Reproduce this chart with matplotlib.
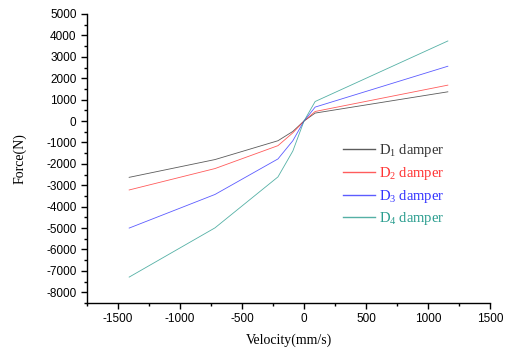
import matplotlib
matplotlib.use("Agg")
import matplotlib.pyplot as plt
from matplotlib.ticker import MultipleLocator

velocity = [-1410, -718, -210, -90, 0, 90, 1160]
d1_force = [-2630, -1800, -920, -485, 0, 372, 1365]
d2_force = [-3220, -2220, -1150, -550, 0, 447, 1677]
d3_force = [-5000, -3430, -1770, -920, 0, 652, 2560]
d4_force = [-7290, -4990, -2610, -1400, 0, 913, 3740]
labels = ["D$_1$ damper", "D$_2$ damper", "D$_3$ damper", "D$_4$ damper"]
colors = ["#333333", "#ff3333", "#3333ff", "#2a9d8f"]

plt.rcParams['mathtext.fontset'] = 'custom'
plt.rcParams['mathtext.rm'] = 'Liberation Serif'
plt.rcParams['mathtext.it'] = 'Liberation Serif:italic'
plt.rcParams['mathtext.default'] = 'rm'
plt.rcParams['axes.unicode_minus'] = False

fig = plt.figure(figsize=(5.1, 3.52), dpi=100)
ax = fig.add_axes([87/510, 1-303/352, (490-87)/510, (303-14)/352])

for y, lab, c in zip([d1_force, d2_force, d3_force, d4_force], labels, colors):
    ax.plot(velocity, y, color=c, lw=0.6, alpha=0.8, label=lab)

ax.set_xlim(-1750, 1500)
ax.set_ylim(-8500, 5000)
ax.xaxis.set_major_locator(MultipleLocator(500))
ax.xaxis.set_minor_locator(MultipleLocator(250))
ax.yaxis.set_major_locator(MultipleLocator(1000))
ax.yaxis.set_minor_locator(MultipleLocator(500))
ax.spines['top'].set_visible(False)
ax.spines['right'].set_visible(False)
for s in ['left', 'bottom']:
    ax.spines[s].set_linewidth(1.0)
ax.tick_params(which='major', direction='out', length=4, width=1, labelsize=8.5)
ax.tick_params(which='minor', direction='out', length=2.5, width=1)
for t in ax.get_xticklabels() + ax.get_yticklabels():
    t.set_family('Liberation Sans')

ax.set_xlabel("Velocity(mm/s)", family='Liberation Serif', fontsize=10, labelpad=6)
ax.set_ylabel("Force(N)", family='Liberation Serif', fontsize=10, labelpad=14)

leg = ax.legend(loc='upper left', bbox_to_anchor=(343/510, 1-142/352), bbox_transform=fig.transFigure,
                frameon=False, handlelength=2.2, handletextpad=0.25, labelspacing=0.4,
                borderaxespad=0, borderpad=0,
                prop={'family': 'Liberation Serif', 'size': 10.5}, labelcolor='linecolor')
for l in leg.get_lines():
    l.set_linewidth(1.0)

fig.savefig("out.png", dpi=100)
